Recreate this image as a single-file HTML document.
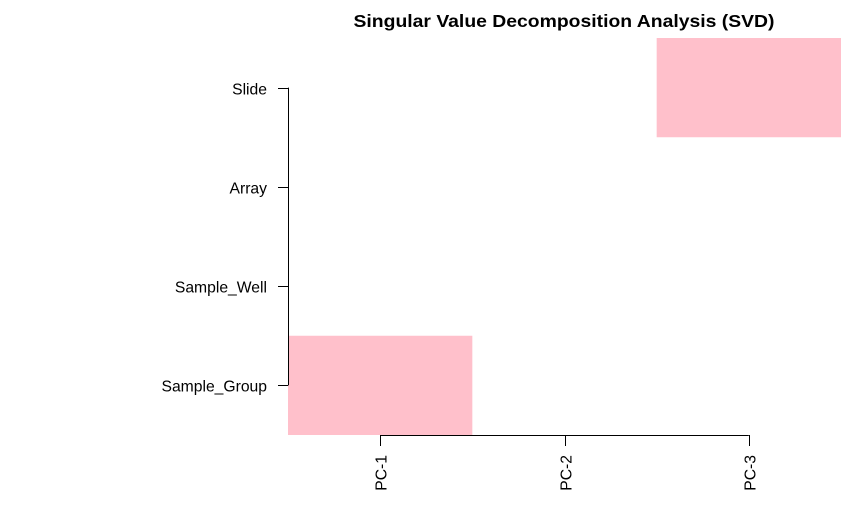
<!DOCTYPE html>
<html><head><meta charset="utf-8"><style>
html,body{margin:0;padding:0;background:#fff;width:861px;height:532px;overflow:hidden}
svg text{font-family:"Liberation Sans",Arial,sans-serif;fill:#000}
</style></head><body>
<svg id="chart" width="861" height="532" xmlns="http://www.w3.org/2000/svg">
<text x="564" y="27" font-size="17.2" font-weight="bold" text-anchor="middle" textLength="421" lengthAdjust="spacingAndGlyphs">Singular Value Decomposition Analysis (SVD)</text>
<g id="cells"></g>
<g id="axes"></g>
</svg>
<script>
const columns = ["PC-1","PC-2","PC-3"];
const rows = ["Slide","Array","Sample_Well","Sample_Group"];
// significance per row (top to bottom) for PC-1, PC-2, PC-3 : 1 = significant
const slideSig = [0,0,1];
const arraySig = [0,0,0];
const wellSig = [0,0,0];
const groupSig = [1,0,0];
const sig = [slideSig, arraySig, wellSig, groupSig];

const NS="http://www.w3.org/2000/svg";
const x0=288,x1=841,y0=38,y1=435;
const cw=(x1-x0)/columns.length, rh=(y1-y0)/rows.length;
const xScale=i=>x0+i*cw, yScale=j=>y0+j*rh;
const cells=document.getElementById('cells'), axes=document.getElementById('axes');
function mk(tag,attrs,parent){const e=document.createElementNS(NS,tag);for(const k in attrs)e.setAttribute(k,attrs[k]);parent.appendChild(e);return e;}
sig.forEach((r,j)=>r.forEach((v,i)=>{
  if(!v) return;
  const c=mk('rect',{x:xScale(i),y:yScale(j),width:cw,height:rh,fill:'#ffc0cb'},cells);
  
  
}));
const ya=mk('line',{x1:x0+0.5,x2:x0+0.5,y1:yScale(0.5),y2:yScale(rows.length-0.5),stroke:'#000'},axes);


rows.forEach((r,j)=>{
  const y=Math.round(yScale(j+0.5))+0.5;
  const t=mk('line',{x1:x0-10,x2:x0,y1:y,y2:y,stroke:'#000'},axes);
  
  
  const l=mk('text',{x:x0-21,y:y+6,'font-size':15.7,'text-anchor':'end'},axes);
  l.textContent=r;
  
  
});
const xa=mk('line',{x1:xScale(0.5),x2:xScale(columns.length-0.5),y1:y1+0.5,y2:y1+0.5,stroke:'#000'},axes);


columns.forEach((c,i)=>{
  const x=Math.round(xScale(i+0.5))+0.5;
  const t=mk('line',{x1:x,x2:x,y1:y1,y2:y1+11,stroke:'#000'},axes);
  
  
  const l=mk('text',{x:0,y:0,'font-size':15.7,'text-anchor':'end',transform:`translate(${x+6},455) rotate(-90)`},axes);
  l.textContent=c;
  
  
});
</script>
</body></html>
